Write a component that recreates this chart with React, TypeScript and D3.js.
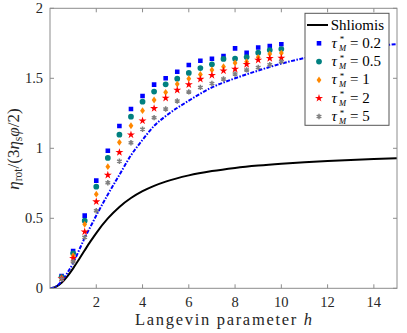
import React from "react";
import * as d3 from "d3";

const H_THEORY = [0, 0.25, 0.5, 0.75, 1, 1.25, 1.5, 1.75, 2, 2.5, 3, 3.5, 4, 4.5, 5, 6, 7, 8, 9, 10, 11, 12, 13, 14, 15];
const SHLIOMIS = [0, 0.0103, 0.04, 0.0857, 0.1426, 0.206, 0.2712, 0.3348, 0.3947, 0.4989, 0.5812, 0.6447, 0.6937, 0.7319, 0.7621, 0.8065, 0.8372, 0.8596, 0.8767, 0.8901, 0.9009, 0.9098, 0.9172, 0.9235, 0.9289];
const BLUE_CURVE = [0, 0.012, 0.05, 0.11, 0.18, 0.27, 0.36, 0.44, 0.52, 0.67, 0.81, 0.95, 1.06, 1.16, 1.23, 1.34, 1.435, 1.5, 1.555, 1.605, 1.645, 1.68, 1.705, 1.727, 1.745];

const H_POINTS = [0.5, 1, 1.5, 2, 2.5, 3, 3.5, 4, 4.5, 5, 5.5, 6, 6.5, 7, 7.5, 8, 8.5, 9, 9.5, 10];
const TAU_02 = [0.088, 0.266, 0.519, 0.769, 0.983, 1.159, 1.281, 1.374, 1.455, 1.5, 1.547, 1.595, 1.625, 1.64, 1.659, 1.714, 1.683, 1.72, 1.731, 1.743];
const TAU_05 = [0.08, 0.25, 0.483, 0.726, 0.931, 1.097, 1.226, 1.333, 1.405, 1.457, 1.497, 1.538, 1.573, 1.6, 1.638, 1.64, 1.652, 1.683, 1.702, 1.709];
const TAU_1 = [0.075, 0.233, 0.457, 0.672, 0.869, 1.043, 1.161, 1.269, 1.345, 1.4, 1.459, 1.497, 1.527, 1.56, 1.583, 1.61, 1.619, 1.65, 1.674, 1.68];
const TAU_2 = [0.07, 0.214, 0.404, 0.619, 0.809, 0.971, 1.097, 1.197, 1.285, 1.359, 1.416, 1.455, 1.494, 1.522, 1.554, 1.566, 1.6, 1.631, 1.643, 1.645];
const TAU_5 = [0.065, 0.19, 0.364, 0.554, 0.754, 0.907, 1.04, 1.136, 1.219, 1.281, 1.338, 1.403, 1.435, 1.463, 1.495, 1.531, 1.56, 1.577, 1.597, 1.619];

const TAU_LABELS = ["0.2", "0.5", "1", "2", "5"];
const X_TICKS = [2, 4, 6, 8, 10, 12, 14];
const Y_TICKS = [0, 0.5, 1, 1.5, 2];

const SERIES = [
  { values: TAU_02, color: "#0000ff", shape: "square" },
  { values: TAU_05, color: "#008080", shape: "circle" },
  { values: TAU_1, color: "#ff8800", shape: "diamond" },
  { values: TAU_2, color: "#ff0000", shape: "star" },
  { values: TAU_5, color: "#808080", shape: "asterisk" },
];

const W = 407, H = 333;
const L = 50, R = 397, T = 8.3, B = 288.3;
const FONT = "'Liberation Serif', 'DejaVu Serif', serif";

function symbolPath(shape: string): { d: string; filled: boolean } {
  switch (shape) {
    case "square": return { d: d3.symbol(d3.symbolSquare, 21)()!, filled: true };
    case "circle": return { d: d3.symbol(d3.symbolCircle, 26)()!, filled: true };
    case "diamond": return { d: "M0,-3.4L2.4,0L0,3.4L-2.4,0Z", filled: true };
    case "star": return { d: d3.symbol(d3.symbolStar, 20)()!, filled: true };
    default: return { d: d3.symbol(d3.symbolAsterisk, 20)()!, filled: false };
  }
}

function Marker({ shape, color, x, y }: { shape: string; color: string; x: number; y: number }) {
  const s = symbolPath(shape);
  return s.filled ? (
    <path d={s.d} transform={`translate(${x},${y})`} fill={color} />
  ) : (
    <path d={s.d} transform={`translate(${x},${y})`} fill="none" stroke={color} strokeWidth={1.5} />
  );
}

export default function App() {
  const x = d3.scaleLinear().domain([0, 15]).range([L, R]);
  const y = d3.scaleLinear().domain([0, 2]).range([B, T]);
  const line = d3.line<number>().x((_, i) => x(H_THEORY[i])).y((v) => y(v)).curve(d3.curveMonotoneX);

  const legendX = 305, legendY = 13.3, legendW = 84, legendH = 112;
  const rowY = (i: number) => 25 + i * 18.3;

  return (
    <svg width={W} height={H} style={{ position: "absolute", left: 0, top: 0, background: "#fff" }} fontFamily={FONT}>
      <rect x={0} y={0} width={W} height={H} fill="#fff" />
      <defs>
        <clipPath id="plot"><rect x={L} y={T} width={R - L} height={B - T} /></clipPath>
      </defs>
      <g clipPath="url(#plot)">
        <path d={line(SHLIOMIS)!} fill="none" stroke="#000" strokeWidth={2} />
        <path d={line(BLUE_CURVE)!} fill="none" stroke="#0000ff" strokeWidth={2} strokeDasharray="4,1.5,1.5,1.5" />
        {SERIES.map((s, si) =>
          s.values.map((v, i) => <Marker key={`${si}-${i}`} shape={s.shape} color={s.color} x={x(H_POINTS[i])} y={y(v)} />)
        )}
      </g>
      <rect x={L} y={T} width={R - L} height={B - T} fill="none" stroke="#8c8c8c" strokeWidth={1} />
      {X_TICKS.map((t) => (
        <g key={`xt${t}`}>
          <line x1={x(t)} x2={x(t)} y1={B} y2={B - 4} stroke="#8c8c8c" />
          <line x1={x(t)} x2={x(t)} y1={T} y2={T + 4} stroke="#8c8c8c" />
          <text x={x(t)} y={306.8} fontSize={14.5} textAnchor="middle" fill="#262626">{t}</text>
        </g>
      ))}
      {Y_TICKS.map((t) => (
        <g key={`yt${t}`}>
          <line x1={L} x2={L + 4} y1={y(t)} y2={y(t)} stroke="#8c8c8c" />
          <line x1={R} x2={R - 4} y1={y(t)} y2={y(t)} stroke="#8c8c8c" />
          <text x={43} y={y(t) + 5} fontSize={14.5} textAnchor="end" fill="#262626">{t}</text>
        </g>
      ))}
      <text x={223.5} y={325} fontSize={16.5} textAnchor="middle" fill="#262626" textLength={177} lengthAdjust="spacing">
        Langevin parameter <tspan fontStyle="italic">h</tspan>
      </text>
      <g transform="translate(18.5,149) rotate(-90)">
        <text x={0} y={0} fontSize={17} textAnchor="middle" fill="#262626">
          <tspan fontStyle="italic">η</tspan>
          <tspan fontSize={11.5} dy={3}>rot</tspan>
          <tspan dy={-3}>/(3</tspan>
          <tspan fontStyle="italic">η</tspan>
          <tspan fontSize={11.5} dy={3}>s</tspan>
          <tspan fontStyle="italic" dy={-3}>φ</tspan>
          <tspan>/2)</tspan>
        </text>
      </g>
      <rect x={legendX} y={legendY} width={legendW} height={legendH} fill="#fff" stroke="#555" strokeWidth={1} />
      <line x1={307} x2={328} y1={rowY(0)} y2={rowY(0)} stroke="#000" strokeWidth={2} />
      <text x={330.7} y={rowY(0) + 4.5} fontSize={15} fill="#000">Shliomis</text>
      {SERIES.map((s, i) => {
        const c = rowY(i + 1);
        return (
          <g key={`lg${i}`}>
            <Marker shape={s.shape} color={s.color} x={319} y={c} />
            <text y={c + 4.5} fontSize={15} fill="#000">
              <tspan x={331.5} fontStyle="italic">τ</tspan>
              <tspan x={339.8} dy={-5.5} fontSize={9}>*</tspan>
              <tspan x={339} dy={8.5} fontSize={8.5} fontStyle="italic">M</tspan>
              <tspan x={350} dy={-3}>= {TAU_LABELS[i]}</tspan>
            </text>
          </g>
        );
      })}
    </svg>
  );
}
